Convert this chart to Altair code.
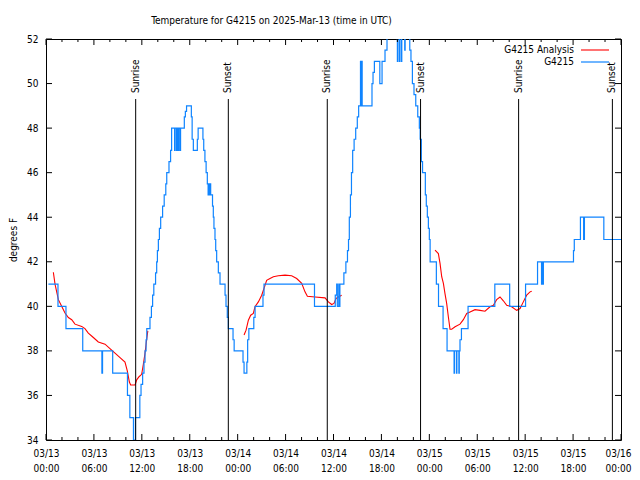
import altair as alt
import pandas as pd

FONT = "Liberation Sans Narrow, DejaVu Sans Condensed, Liberation Sans"
BLUE = "#0f84ff"
RED = "#ff0000"

title_text = "Temperature for G4215 on 2025-Mar-13 (time in UTC)"

# G4215 observations: (hours since 2025-03-13 00:00 UTC, deg F), drawn as steps
blue_steps = [
    (0.3, 41), (1.5, 40), (2.5, 39), (4.6, 38), (7.0, 37), (7.08, 38), (8.35, 37),
    (10.2, 36), (10.5, 35), (10.95, 34), (11.2, 35), (11.75, 36), (11.9, 36.5), (12.1, 37),
    (12.27, 37.5), (12.4, 38), (12.53, 38.5), (12.62, 39), (13.02, 39.5), (13.2, 40),
    (13.35, 40.5), (13.5, 41), (13.72, 41.5), (13.86, 42), (13.95, 42.5), (14.07, 43),
    (14.2, 43.5), (14.36, 44), (14.6, 44.5), (14.8, 45), (15.0, 45.5), (15.12, 46),
    (15.4, 46.5), (15.6, 47), (15.73, 48), (16.1, 47), (16.17, 48), (16.35, 47), (16.42, 48),
    (16.55, 47), (16.62, 48), (16.78, 47), (16.85, 48),
    (17.32, 48.5), (17.45, 48.75), (17.6, 49), (18.2, 48.5), (18.3, 47.5), (18.45, 47),
    (18.95, 47.5), (19.05, 48), (19.65, 47.5), (19.75, 47), (19.9, 46.5), (20.05, 46),
    (20.2, 45.5), (20.3, 45), (20.36, 45.5), (20.5, 45), (20.56, 45.5), (20.62, 45),
    (20.85, 44.5), (20.95, 44), (21.03, 43.5), (21.16, 43), (21.25, 42.5), (21.37, 42),
    (21.58, 41.5), (21.79, 41), (22.42, 40.5), (22.54, 40), (22.7, 39.5), (22.83, 39),
    (23.42, 38.5), (23.56, 38), (24.67, 37.5), (24.8, 37), (25.15, 37.5), (25.25, 38.5),
    (25.4, 39), (26.02, 39.5), (26.18, 40), (27.17, 40.5), (27.3, 41), (33.62, 40),
    (36.22, 40.5), (36.4, 41), (36.48, 40), (36.66, 41), (36.72, 40), (36.8, 41),
    (37.3, 41.5), (37.55, 42), (37.75, 42.5), (37.88, 43), (37.98, 44), (38.12, 45),
    (38.25, 46), (38.4, 47), (38.58, 47.5), (38.78, 48), (38.98, 48.5), (39.15, 49),
    (39.38, 51), (39.42, 49), (39.55, 51), (39.59, 49), (40.82, 50), (40.95, 50.5),
    (41.12, 51), (41.8, 50), (42.08, 51), (42.45, 51.5), (42.7, 53), (44.0, 51), (44.05, 53),
    (44.25, 51), (44.3, 53), (44.5, 51), (44.55, 53), (44.92, 51.5), (44.97, 53),
    (45.55, 51.5), (45.7, 51), (45.88, 50), (46.08, 49.5), (46.3, 49), (46.55, 48.5),
    (46.75, 48), (46.85, 47.5), (47.0, 46.5), (47.15, 46), (47.5, 45), (47.62, 44.5),
    (47.75, 44), (47.88, 43.5), (48.0, 43), (48.1, 42), (48.88, 41), (49.15, 40),
    (49.72, 39), (50.22, 38), (51.1, 37), (51.15, 38), (51.4, 37), (51.45, 38),
    (51.7, 37), (51.75, 38), (51.84, 38.5), (52.02, 39), (52.85, 40), (56.2, 41),
    (58.06, 40), (60.05, 41), (61.55, 42), (62.05, 41), (62.1, 42), (62.22, 41), (62.28, 42),
    (66.05, 42.5), (66.15, 43), (66.92, 44), (67.32, 43), (67.42, 44), (69.85, 43),
    (72.0, 43),
]

# G4215 Analysis: three separate segments
red_seg1 = [
    (0.92, 41.53), (1.13, 41.0), (1.55, 40.3), (1.96, 40.0), (2.38, 39.7), (2.8, 39.5),
    (3.22, 39.4), (3.63, 39.2), (4.47, 39.1), (4.88, 39.0), (5.3, 38.8), (5.93, 38.6),
    (6.55, 38.4), (7.39, 38.3), (8.01, 38.1), (8.64, 37.9), (9.27, 37.7), (9.89, 37.5),
    (10.18, 37.1), (10.44, 36.6), (10.6, 36.47), (11.15, 36.47), (11.36, 36.7),
    (11.65, 36.84), (11.98, 36.95), (12.19, 37.4), (12.4, 37.9), (12.6, 38.5), (12.75, 38.9),
]
red_seg2 = [
    (24.8, 38.71), (25.05, 38.93), (25.34, 39.38), (25.63, 39.6), (25.96, 39.68),
    (26.17, 39.98), (26.59, 40.2), (27.01, 40.5), (27.22, 40.72), (27.63, 41.17),
    (28.05, 41.25), (28.47, 41.33), (29.09, 41.37), (29.93, 41.4), (30.76, 41.37),
    (31.39, 41.25), (32.02, 41.03), (32.43, 40.65), (32.73, 40.45), (33.69, 40.42),
    (34.94, 40.38), (35.36, 40.2), (35.77, 40.08), (36.06, 40.13), (36.31, 40.35),
    (36.61, 40.42), (37.02, 40.5),
]
red_seg3 = [
    (48.71, 42.52), (49.13, 42.37), (49.34, 41.93), (49.55, 41.33), (49.76, 41.03),
    (49.96, 40.57), (50.17, 40.13), (50.38, 39.53), (50.59, 38.97), (50.8, 38.97),
    (51.22, 39.08), (51.84, 39.2), (52.26, 39.4), (52.68, 39.68), (53.1, 39.75),
    (53.72, 39.85), (54.35, 39.82), (54.97, 39.78), (55.6, 39.98), (56.02, 40.05),
    (56.43, 40.3), (56.85, 40.42), (57.27, 40.25), (57.69, 40.05), (58.31, 39.98),
    (58.94, 39.82), (59.36, 39.9), (59.77, 40.2), (60.19, 40.5), (60.61, 40.65), (60.82, 40.68),
]

sun_t = [11.23, 22.83, 35.22, 46.9, 59.18, 70.92]
sun_label = ["Sunrise", "Sunset", "Sunrise", "Sunset", "Sunrise", "Sunset"]

x_major = list(range(0, 73, 6))
x_minor = [h for h in range(0, 73, 2) if h % 6]
y_major = list(range(34, 53, 2))

W, H = 575, 401

blue_df = pd.DataFrame(blue_steps, columns=["t", "v"])
red_rows = []
for i, seg in enumerate([red_seg1, red_seg2, red_seg3]):
    for t, v in seg:
        red_rows.append({"t": t, "v": v, "seg": i})
red_df = pd.DataFrame(red_rows)
sun_df = pd.DataFrame({"t": sun_t, "label": sun_label})
xmaj_df = pd.DataFrame({"t": x_major})
xmin_df = pd.DataFrame({"t": x_minor})
ymaj_df = pd.DataFrame({"v": y_major})
one = pd.DataFrame({"a": [0]})

xscale = alt.Scale(domain=[0, 72], nice=False, zero=False)
yscale = alt.Scale(domain=[34, 52], nice=False, zero=False)

xaxis = alt.Axis(
    values=x_major,
    labelExpr="['03/' + (13 + floor(datum.value / 24)), ((datum.value % 24) < 10 ? '0' : '') + (datum.value % 24) + ':00']",
    grid=False, domain=False, ticks=False, title=None,
    labelFont=FONT, labelFontSize=10, labelPadding=8, labelLineHeight=15,
    labelColor="black", labelFlush=False, labelOverlap=False, labelBound=False,
    labelOffset={"condition": {"test": "datum.value >= 72", "value": -3}, "value": 0},
)
yaxis = alt.Axis(
    values=y_major, grid=False, domain=False, ticks=False,
    title="degrees F", titleFont=FONT, titleFontSize=10, titleFontWeight="normal",
    titleColor="black", titleX=-33, titleY=200.5, titleAngle=270,
    titleAlign="center", titleBaseline="middle",
    labelFont=FONT, labelFontSize=10, labelPadding=8, labelColor="black",
    labelFlush=False, labelOverlap=False,
)

X = alt.X("t:Q", scale=xscale, axis=xaxis)
Y = alt.Y("v:Q", scale=yscale, axis=yaxis)

red = alt.Chart(red_df).mark_line(color=RED, strokeWidth=1.1, clip=True).encode(
    x=X, y=Y, detail="seg:N")
blue = alt.Chart(blue_df).mark_line(color=BLUE, strokeWidth=1.2, interpolate="step-after",
                                    clip=True).encode(x=X, y=Y)

sun_rule = alt.Chart(sun_df).mark_rule(color="black", strokeWidth=1).encode(
    x=X, y=alt.value(60), y2=alt.value(H))
sun_text = alt.Chart(sun_df).mark_text(
    angle=270, align="left", baseline="middle", font=FONT, fontSize=10, color="black"
).encode(x=X, y=alt.value(54), text="label:N")

xt_bot = alt.Chart(xmaj_df).mark_rule(color="black").encode(x=X, y=alt.value(H), y2=alt.value(H - 6))
xt_top = alt.Chart(xmaj_df).mark_rule(color="black").encode(x=X, y=alt.value(0), y2=alt.value(6))
xm_bot = alt.Chart(xmin_df).mark_rule(color="black").encode(x=X, y=alt.value(H), y2=alt.value(H - 3))
xm_top = alt.Chart(xmin_df).mark_rule(color="black").encode(x=X, y=alt.value(0), y2=alt.value(3))
yt_left = alt.Chart(ymaj_df).mark_rule(color="black").encode(y=Y, x=alt.value(0), x2=alt.value(6))
yt_right = alt.Chart(ymaj_df).mark_rule(color="black").encode(y=Y, x=alt.value(W), x2=alt.value(W - 6))

leg_t1 = alt.Chart(one).mark_text(align="right", baseline="middle", font=FONT, fontSize=10,
                                  color="black").encode(
    x=alt.value(528), y=alt.value(11), text=alt.value("G4215 Analysis"))
leg_l1 = alt.Chart(one).mark_rule(color=RED, strokeWidth=1.1).encode(
    x=alt.value(535), x2=alt.value(563), y=alt.value(11))
leg_t2 = alt.Chart(one).mark_text(align="right", baseline="middle", font=FONT, fontSize=10,
                                  color="black").encode(
    x=alt.value(528), y=alt.value(23), text=alt.value("G4215"))
leg_l2 = alt.Chart(one).mark_rule(color=BLUE, strokeWidth=1.2).encode(
    x=alt.value(535), x2=alt.value(563), y=alt.value(23))

chart = alt.layer(
    red, blue, sun_rule, sun_text, xt_bot, xt_top, xm_bot, xm_top, yt_left, yt_right,
    leg_t1, leg_l1, leg_t2, leg_l2,
).properties(
    width=W, height=H,
    title=alt.TitleParams(title_text, font=FONT, fontSize=10, fontWeight="normal",
                          color="black", anchor="middle", frame="group", dx=-62, offset=8),
    autosize=alt.AutoSizeParams(type="none"),
    padding={"left": 38, "top": 31, "right": 11, "bottom": 32},
    background="white",
).configure_view(stroke="black", strokeWidth=1)

chart.save("out.html", embed_options={"renderer": "svg", "actions": False})
